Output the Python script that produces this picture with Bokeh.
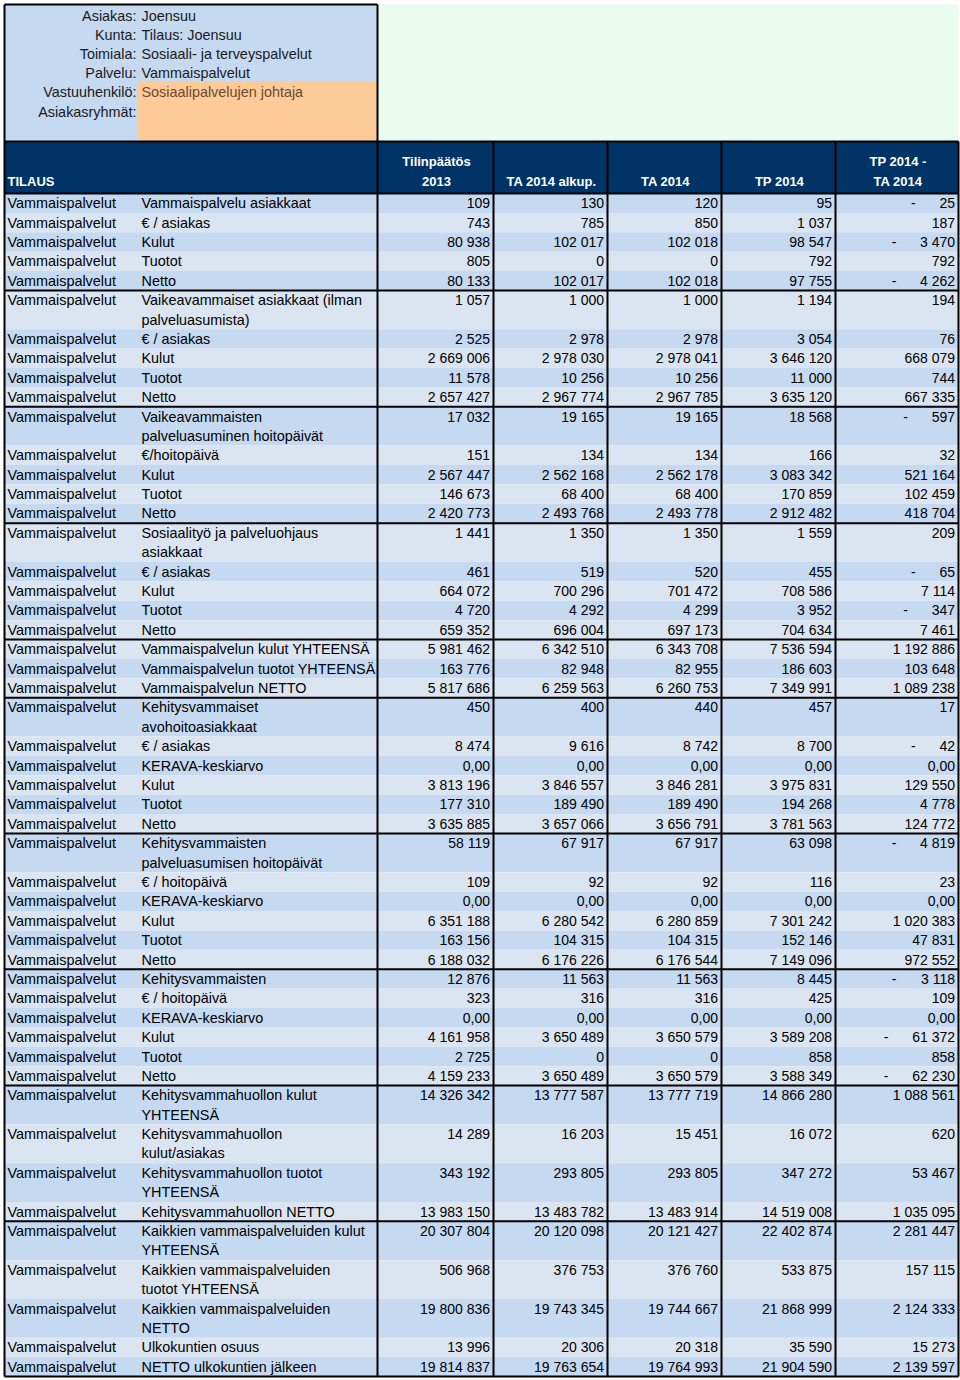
from bokeh.plotting import figure
from bokeh.models import Range1d, ColumnDataSource
from bokeh.core.properties import value
from bokeh.embed import file_html
from bokeh.resources import INLINE

# ---------------- data ----------------
info_keys = ["Asiakas:", "Kunta:", "Toimiala:", "Palvelu:", "Vastuuhenkilö:", "Asiakasryhmät:"]
info_vals = ["Joensuu", "Tilaus: Joensuu", "Sosiaali- ja terveyspalvelut", "Vammaispalvelut",
             "Sosiaalipalvelujen johtaja", ""]

first_header = "TILAUS"
col_headers = ["Tilinpäätös\n2013", "TA 2014 alkup.", "TA 2014", "TP 2014", "TP 2014 -\nTA 2014"]

group_sizes = [5, 5, 5, 5, 3, 6, 6, 6, 4, 5]
palvelu = "Vammaispalvelut"

labels = [
    "Vammaispalvelu asiakkaat", "€ / asiakas", "Kulut", "Tuotot", "Netto",
    "Vaikeavammaiset asiakkaat (ilman\npalveluasumista)", "€ / asiakas", "Kulut", "Tuotot", "Netto",
    "Vaikeavammaisten\npalveluasuminen hoitopäivät", "€/hoitopäivä", "Kulut", "Tuotot", "Netto",
    "Sosiaalityö ja palveluohjaus\nasiakkaat", "€ / asiakas", "Kulut", "Tuotot", "Netto",
    "Vammaispalvelun kulut YHTEENSÄ", "Vammaispalvelun tuotot YHTEENSÄ", "Vammaispalvelun NETTO",
    "Kehitysvammaiset\navohoitoasiakkaat", "€ / asiakas", "KERAVA-keskiarvo", "Kulut", "Tuotot", "Netto",
    "Kehitysvammaisten\npalveluasumisen hoitopäivät", "€ / hoitopäivä", "KERAVA-keskiarvo", "Kulut", "Tuotot", "Netto",
    "Kehitysvammaisten", "€ / hoitopäivä", "KERAVA-keskiarvo", "Kulut", "Tuotot", "Netto",
    "Kehitysvammahuollon kulut\nYHTEENSÄ", "Kehitysvammahuollon\nkulut/asiakas",
    "Kehitysvammahuollon tuotot\nYHTEENSÄ", "Kehitysvammahuollon NETTO",
    "Kaikkien vammaispalveluiden kulut\nYHTEENSÄ", "Kaikkien vammaispalveluiden\ntuotot YHTEENSÄ",
    "Kaikkien vammaispalveluiden\nNETTO", "Ulkokuntien osuus", "NETTO ulkokuntien jälkeen",
]

tp2013 = [109, 743, 80938, 805, 80133,
          1057, 2525, 2669006, 11578, 2657427,
          17032, 151, 2567447, 146673, 2420773,
          1441, 461, 664072, 4720, 659352,
          5981462, 163776, 5817686,
          450, 8474, 0.0, 3813196, 177310, 3635885,
          58119, 109, 0.0, 6351188, 163156, 6188032,
          12876, 323, 0.0, 4161958, 2725, 4159233,
          14326342, 14289, 343192, 13983150,
          20307804, 506968, 19800836, 13996, 19814837]

ta2014_alkup = [130, 785, 102017, 0, 102017,
                1000, 2978, 2978030, 10256, 2967774,
                19165, 134, 2562168, 68400, 2493768,
                1350, 519, 700296, 4292, 696004,
                6342510, 82948, 6259563,
                400, 9616, 0.0, 3846557, 189490, 3657066,
                67917, 92, 0.0, 6280542, 104315, 6176226,
                11563, 316, 0.0, 3650489, 0, 3650489,
                13777587, 16203, 293805, 13483782,
                20120098, 376753, 19743345, 20306, 19763654]

ta2014 = [120, 850, 102018, 0, 102018,
          1000, 2978, 2978041, 10256, 2967785,
          19165, 134, 2562178, 68400, 2493778,
          1350, 520, 701472, 4299, 697173,
          6343708, 82955, 6260753,
          440, 8742, 0.0, 3846281, 189490, 3656791,
          67917, 92, 0.0, 6280859, 104315, 6176544,
          11563, 316, 0.0, 3650579, 0, 3650579,
          13777719, 15451, 293805, 13483914,
          20121427, 376760, 19744667, 20318, 19764993]

tp2014 = [95, 1037, 98547, 792, 97755,
          1194, 3054, 3646120, 11000, 3635120,
          18568, 166, 3083342, 170859, 2912482,
          1559, 455, 708586, 3952, 704634,
          7536594, 186603, 7349991,
          457, 8700, 0.0, 3975831, 194268, 3781563,
          63098, 116, 0.0, 7301242, 152146, 7149096,
          8445, 425, 0.0, 3589208, 858, 3588349,
          14866280, 16072, 347272, 14519008,
          22402874, 533875, 21868999, 35590, 21904590]

erotus = [-25, 187, -3470, 792, -4262,
          194, 76, 668079, 744, 667335,
          -597, 32, 521164, 102459, 418704,
          209, -65, 7114, -347, 7461,
          1192886, 103648, 1089238,
          17, -42, 0.0, 129550, 4778, 124772,
          -4819, 23, 0.0, 1020383, 47831, 972552,
          -3118, 109, 0.0, -61372, 858, -62230,
          1088561, 620, 53467, 1035095,
          2281447, 157115, 2124333, 15273, 2139597]

columns = [tp2013, ta2014_alkup, ta2014, tp2014, erotus]

# ---------------- layout / style ----------------
FONT = value("Liberation Sans")
NAVY = "#003366"
DARK = "#c5d9f1"
LIGHT = "#dbe5f1"
MINT = "#eafcef"
ORANGE = "#fdca98"

W, H = 960, 1380
X0, X1 = 4, 958
SPLIT = 377
COL_L = [377, 493, 607, 721, 835]
COL_R = [493, 607, 721, 835, 958]
TOP = 4
HEAD_TOP = 141
BODY_TOP = 193
BODY_BOT = 1376
FLIP = 20

def fmt(v):
    if isinstance(v, float):
        return ("%.2f" % abs(v)).replace(".", ",")
    return "{:,}".format(abs(v)).replace(",", " ")

def est_width(s, fs=14):
    w = 0
    for ch in s:
        w += 0.278 * fs if ch == " " else 0.556 * fs
    return w

p = figure(width=W, height=H, x_range=Range1d(0, W), y_range=Range1d(H, 0),
           output_backend="svg", toolbar_location=None, min_border=0)
p.axis.visible = False
p.grid.visible = False
p.outline_line_color = None
p.background_fill_color = "white"
p.border_fill_color = "white"

# top block
p.quad(left=[X0], right=[SPLIT], top=[TOP], bottom=[HEAD_TOP], fill_color=DARK, line_color=None)
p.quad(left=[137], right=[SPLIT], top=[80.5], bottom=[HEAD_TOP], fill_color=ORANGE, line_color=None)
p.quad(left=[SPLIT], right=[X1], top=[TOP], bottom=[HEAD_TOP], fill_color=MINT, line_color=None)
# navy header
p.quad(left=[X0], right=[X1], top=[HEAD_TOP], bottom=[BODY_TOP], fill_color=NAVY, line_color=None)

# body rows
n_lines = [lab.count("\n") + 1 for lab in labels]
LH = (BODY_BOT - BODY_TOP) / sum(n_lines)
row_top, row_bot, fills = [], [], []
acc = 0
for i, nl in enumerate(n_lines):
    row_top.append(BODY_TOP + acc * LH)
    acc += nl
    row_bot.append(BODY_TOP + acc * LH)
    off = 1 if i >= FLIP else 0
    fills.append(DARK if (i + off) % 2 == 0 else LIGHT)
p.quad(left=X0, right=X1, top=row_top, bottom=row_bot, fill_color=fills, line_color=None)

# borders
x0s, y0s, x1s, y1s = [], [], [], []
def seg(a, b, c, d):
    x0s.append(a); y0s.append(b); x1s.append(c); y1s.append(d)
seg(X0, TOP, SPLIT, TOP)
seg(X0, TOP, X0, BODY_BOT)
seg(SPLIT, TOP, SPLIT, BODY_BOT)
seg(X0, HEAD_TOP, X1, HEAD_TOP)
seg(X0, BODY_TOP, X1, BODY_TOP)
seg(X0, BODY_BOT, X1, BODY_BOT)
for xl in COL_L[1:]:
    seg(xl, HEAD_TOP, xl, BODY_BOT)
seg(X1, HEAD_TOP, X1, BODY_BOT)
cum = 0
for g in group_sizes[:-1]:
    cum += g
    yb = row_bot[cum - 1]
    seg(X0, yb, X1, yb)
p.segment(x0=x0s, y0=y0s, x1=x1s, y1=y1s, line_color="black", line_width=2)

def add_text(xs, ys, texts, align, size="14px", style="normal", color="black"):
    src = ColumnDataSource(dict(x=xs, y=ys, t=texts))
    p.text(x="x", y="y", text="t", source=src, text_align=align, text_baseline="middle",
           text_font=FONT, text_font_size=size, text_font_style=style, text_color=color)

LABEL_FS = "14.4px"

# top info texts
iy = [15 + k * 19.2 for k in range(len(info_keys))]
add_text([136] * len(info_keys), iy, info_keys, "right", size=LABEL_FS, color="#1a1a1a")
vals_color = ["#1a1a1a"] * len(info_vals)
vals_color[4] = "#6b4a33"
src = ColumnDataSource(dict(x=[141] * len(info_vals), y=iy, t=info_vals, c=vals_color))
p.text(x="x", y="y", text="t", source=src, text_align="left", text_baseline="middle",
       text_font=FONT, text_font_size=LABEL_FS, text_color="c")

# header texts
H1, H2 = 161, 180.5
add_text([7], [H2], [first_header], "left", size="13px", style="bold", color="white")
hx, hy, ht = [], [], []
for j, h in enumerate(col_headers):
    parts = h.split("\n")
    cx = (COL_L[j] + COL_R[j]) / 2 + 1
    ys = [H2] if len(parts) == 1 else [H1, H2]
    for part, yy in zip(parts, ys):
        hx.append(cx); hy.append(yy); ht.append(part)
add_text(hx, hy, ht, "center", size="13px", style="bold", color="white")

# body texts
lx, ly, lt = [], [], []
px, py = [], []
nx, ny, nt = [], [], []
dx, dy = [], []
for i, lab in enumerate(labels):
    base = row_top[i] + LH / 2
    px.append(7); py.append(base)
    for k, part in enumerate(lab.split("\n")):
        lx.append(141); ly.append(base + k * LH); lt.append(part)
    for j, col in enumerate(columns):
        v = col[i]
        s = fmt(v)
        xr = COL_R[j] - 3.5
        nx.append(xr); ny.append(base); nt.append(s)
        if v < 0:
            dx.append(xr - est_width(s) - 26); dy.append(base)
add_text(px, py, [palvelu] * len(px), "left", size=LABEL_FS)
add_text(lx, ly, lt, "left", size=LABEL_FS)
add_text(nx, ny, nt, "right")
add_text(dx, dy, ["-"] * len(dx), "center")

open("out.html", "w").write(file_html(p, INLINE))
